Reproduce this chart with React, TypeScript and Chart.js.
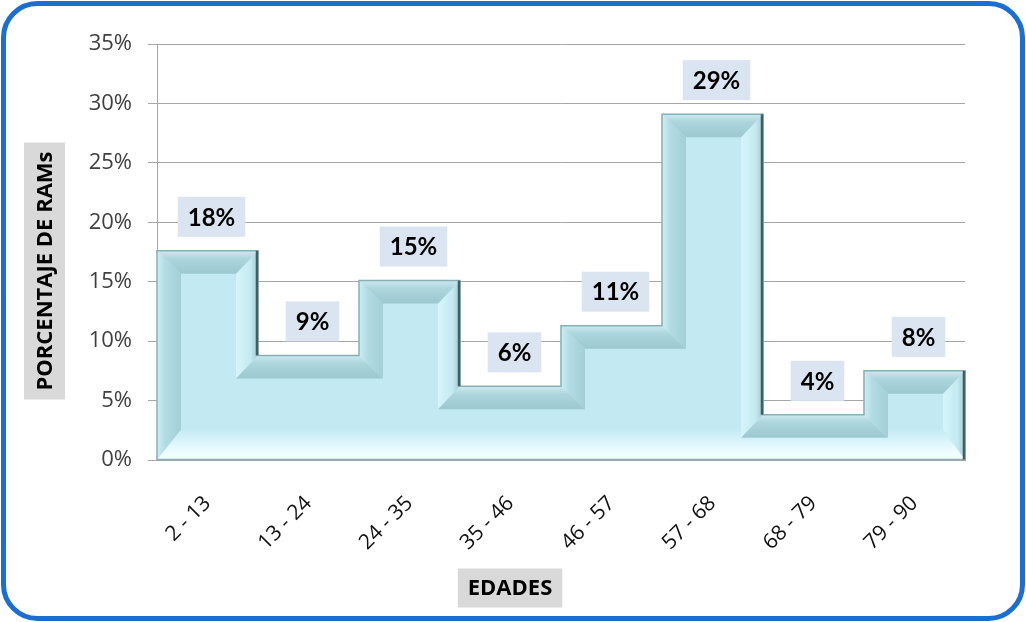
import React, { useEffect, useRef } from "react";
import { Chart, registerables } from "chart.js";

Chart.register(...registerables);

// ---- data ----
const categories = ["2 - 13", "13 - 24", "24 - 35", "35 - 46", "46 - 57", "57 - 68", "68 - 79", "79 - 90"];
const percentages = [17.6, 8.8, 15.1, 6.2, 11.3, 29.1, 3.8, 7.5];
const yMin = 0;
const yMax = 35;
const yStep = 5;
const yAxisTitle = "PORCENTAJE DE RAMs";
const xAxisTitle = "EDADES";

const FONT = '"Open Sans", "Noto Sans", sans-serif';
const LABEL_FONT = 'Lato, "Open Sans", sans-serif';

type P = [number, number];

const framePlugin = {
  id: "frame",
  beforeDraw(chart: any) {
    const ctx = chart.ctx as CanvasRenderingContext2D;
    ctx.save();
    ctx.fillStyle = "#ffffff";
    ctx.fillRect(0, 0, chart.width, chart.height);
    ctx.restore();
  },
  afterDraw(chart: any) {
    const ctx = chart.ctx as CanvasRenderingContext2D;
    const ca = chart.chartArea;
    ctx.save();
    ctx.strokeStyle = "#1b6fd2";
    ctx.lineWidth = 5;
    ctx.beginPath();
    (ctx as any).roundRect(3.5, 3.5, chart.width - 7, chart.height - 7, 34);
    ctx.stroke();

    const ycx = 44.5;
    const ycy = (ca.top + ca.bottom) / 2 + 19;
    ctx.font = `bold 22px ${FONT}`;
    const yw = ctx.measureText(yAxisTitle).width;
    ctx.translate(ycx, ycy);
    ctx.rotate(-Math.PI / 2);
    ctx.fillStyle = "#d9d9d9";
    ctx.fillRect(-yw / 2 - 9, -20.5, yw + 18, 41);
    ctx.fillStyle = "#000000";
    ctx.textAlign = "center";
    ctx.textBaseline = "middle";
    ctx.fillText(yAxisTitle, 0, 1);
    ctx.setTransform(1, 0, 0, 1, 0, 0);

    const xcx = (ca.left + ca.right) / 2 - 51;
    const xcy = 588;
    const xw = ctx.measureText(xAxisTitle).width;
    ctx.fillStyle = "#d9d9d9";
    ctx.fillRect(xcx - xw / 2 - 10, xcy - 19.5, xw + 20, 39);
    ctx.fillStyle = "#000000";
    ctx.textAlign = "center";
    ctx.textBaseline = "middle";
    ctx.fillText(xAxisTitle, xcx, xcy + 1);
    ctx.restore();
  },
};

const bevelPlugin = {
  id: "bevel",
  afterDatasetsDraw(chart: any) {
    const meta = chart.getDatasetMeta(0);
    const bars = meta.data as any[];
    if (!bars.length) return;
    const ctx = chart.ctx as CanvasRenderingContext2D;
    const base = bars[0].base;
    const xs: number[] = [bars[0].x - bars[0].width / 2];
    for (let i = 0; i < bars.length - 1; i++) xs.push((bars[i].x + bars[i + 1].x) / 2);
    const lb = bars[bars.length - 1];
    xs.push(lb.x + lb.width / 2);

    let pts: P[] = [[xs[0], base]];
    bars.forEach((b, i) => {
      pts.push([xs[i], b.y]);
      pts.push([xs[i + 1], b.y]);
    });
    pts.push([xs[xs.length - 1], base]);
    pts = pts.filter((p, i) => {
      const q = pts[(i - 1 + pts.length) % pts.length];
      return !(Math.abs(p[0] - q[0]) < 0.01 && Math.abs(p[1] - q[1]) < 0.01);
    });
    pts = pts.filter((p, i) => {
      const a = pts[(i - 1 + pts.length) % pts.length];
      const c = pts[(i + 1) % pts.length];
      const cross = (p[0] - a[0]) * (c[1] - p[1]) - (p[1] - a[1]) * (c[0] - p[0]);
      return Math.abs(cross) > 0.01;
    });

    const n = pts.length;
    const edges = pts.map((a, i) => {
      const b = pts[(i + 1) % n];
      const dx = Math.sign(b[0] - a[0]);
      const dy = Math.sign(b[1] - a[1]);
      let kind = "top";
      let w = 23;
      if (dy < 0) { kind = "left"; w = 24; }
      else if (dy > 0) { kind = "right"; w = 22; }
      else if (dx < 0) { kind = "bottom"; w = 30; }
      return { a, b, nx: -dy, ny: dx, kind, w };
    });
    const inner: P[] = pts.map((p, i) => {
      const ein = edges[(i - 1 + n) % n];
      const eout = edges[i];
      return [p[0] + ein.w * ein.nx + eout.w * eout.nx, p[1] + ein.w * ein.ny + eout.w * eout.ny];
    });

    const colors: Record<string, [string, string, string]> = {
      top: ["#cbeaf0", "#acd5dc", "#9dc8d0"],
      left: ["#cdeef4", "#b2dbe3", "#a4cfd7"],
      right: ["#a3cbd2", "#c6eaf1", "#d4f5fb"],
      bottom: ["#fbffff", "#e8fbff", "#c4eaf4"],
    };

    ctx.save();
    const order = ["bottom", "right", "left", "top"];
    order.forEach((k) => {
      edges.forEach((e, i) => {
        if (e.kind !== k) return;
        const j = (i + 1) % n;
        const mx = (e.a[0] + e.b[0]) / 2;
        const my = (e.a[1] + e.b[1]) / 2;
        const g = ctx.createLinearGradient(mx, my, mx + e.nx * e.w, my + e.ny * e.w);
        const c = colors[k];
        g.addColorStop(0, c[0]);
        g.addColorStop(0.35, c[1]);
        g.addColorStop(1, c[2]);
        ctx.fillStyle = g;
        ctx.beginPath();
        ctx.moveTo(e.a[0], e.a[1]);
        ctx.lineTo(e.b[0], e.b[1]);
        ctx.lineTo(inner[j][0], inner[j][1]);
        ctx.lineTo(inner[i][0], inner[i][1]);
        ctx.closePath();
        ctx.fill();
      });
    });

    ctx.lineWidth = 1.5;
    ctx.strokeStyle = "#88afb5";
    ctx.beginPath();
    pts.forEach((p, i) => (i ? ctx.lineTo(p[0], p[1]) : ctx.moveTo(p[0], p[1])));
    ctx.closePath();
    ctx.stroke();
    ctx.lineWidth = 2.5;
    ctx.strokeStyle = "#405e63";
    edges.forEach((e) => {
      if (e.kind !== "right") return;
      ctx.beginPath();
      ctx.moveTo(e.a[0] - 1, e.a[1]);
      ctx.lineTo(e.b[0] - 1, e.b[1]);
      ctx.stroke();
    });

    ctx.font = `bold 24px ${LABEL_FONT}`;
    ctx.textAlign = "center";
    ctx.textBaseline = "middle";
    bars.forEach((b, i) => {
      const txt = Math.round(percentages[i]) + "%";
      const tw = ctx.measureText(txt).width;
      const bw = tw + 20;
      const bh = 40;
      const cx = b.x + 4;
      const bottom = b.y - 14;
      ctx.fillStyle = "#dbe5f1";
      ctx.fillRect(cx - bw / 2, bottom - bh, bw, bh);
      ctx.fillStyle = "#000000";
      ctx.fillText(txt, cx, bottom - bh / 2 + 1);
    });
    ctx.restore();
  },
};

export default function App() {
  const ref = useRef<HTMLCanvasElement | null>(null);
  useEffect(() => {
    if (!ref.current) return;
    const chart = new Chart(ref.current, {
      type: "bar",
      data: {
        labels: categories,
        datasets: [
          {
            data: percentages,
            backgroundColor: "#c3e9f3",
            borderWidth: 0,
            barPercentage: 1,
            categoryPercentage: 1,
          },
        ],
      },
      options: {
        animation: false,
        responsive: false,
        events: [],
        layout: { padding: { top: 44, right: 61, bottom: 0, left: 0 } },
        plugins: { legend: { display: false }, tooltip: { enabled: false }, title: { display: false } },
        scales: {
          x: {
            grid: { display: false, drawTicks: false },
            border: { display: true, color: "#a6a6a6" },
            ticks: {
              minRotation: 45,
              maxRotation: 45,
              padding: 31,
              color: "#111111",
              font: { family: FONT, size: 21 },
            },
            afterFit: (s: any) => { s.height = 162; },
          },
          y: {
            min: yMin,
            max: yMax,
            grid: { color: "#a6a6a6", lineWidth: 1, tickLength: 9, drawTicks: true },
            border: { display: true, color: "#a6a6a6" },
            ticks: {
              stepSize: yStep,
              padding: 16,
              color: "#404040",
              font: { family: FONT, size: 22 },
              callback: (v: any) => v + "%",
            },
            afterFit: (s: any) => { s.width = 157; },
          },
        },
      },
      plugins: [framePlugin, bevelPlugin],
    });
    return () => chart.destroy();
  }, []);
  return (
    <div style={{ position: "fixed", left: 0, top: 0, width: 1026, height: 622 }}>
      <canvas ref={ref} width={1026} height={622} style={{ display: "block" }} />
    </div>
  );
}
